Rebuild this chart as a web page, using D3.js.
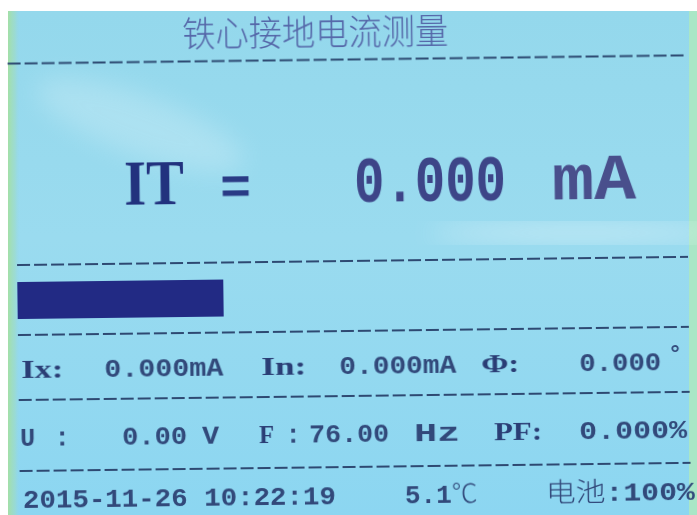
<!DOCTYPE html>
<html>
<head>
<meta charset="utf-8">
<script src="https://cdn.jsdelivr.net/npm/d3@7/dist/d3.min.js"></script>
<style>
  html, body { margin: 0; padding: 0; background: #ffffff; }
  svg { display: block; }
</style>
</head>
<body>
<script>
// ---------- data ----------
const titleText = "铁心接地电流测量";
const mainLabel = ["IT", "="];
const mainReading = ["0.000", "mA"];
const barLevel = [30.7];                 // percent of full bar width
const row1Texts = ["Ix:", "0.000mA", "In:", "0.000mA", "Φ:", "0.000", "°"];
const row2Texts = ["U", ":", "0.00", "V", "F", ":", "76.00", "Hz", "PF:", "0.000%"];
const row3Texts = ["2015-11-26 10:22:19", "5.1℃", "电池:100%"];
const dividerRows = [0, 1, 2, 3, 4];

// ---------- layout (separate from data) ----------
const W = 697, H = 515;
const row1X = [20, 103, 260, 338, 480, 578, 667];
const row1W = [42, 119, 45, 117, 38, 82, 14];
const row2X = [18, 60, 120, 200, 257, 291, 307, 412, 492, 577];
const row2W = [15, 0, 65, 17, 15, 0, 80, 46, 48, 108];
const row3X = [20, 402, 543];
const row3W = [313, -1, 149];            // -1: natural width, start anchored
const dividerY = [59.5, 261, 331, 396, 467];
const dividerX0 = [10, 17, 17, 17, 17];

const LABEL_FONT = "Liberation Serif";
const DIGIT_FONT = "Liberation Mono";
const CJK_FONT = "Noto Sans CJK SC";

const svg = d3.select("body").append("svg")
  .attr("width", W).attr("height", H);

const defs = svg.append("defs");
const bg = defs.append("linearGradient").attr("id", "bg")
  .attr("x1", 0).attr("y1", 0).attr("x2", 0).attr("y2", 1);
bg.append("stop").attr("offset", "0%").attr("stop-color", "#94d8ec");
bg.append("stop").attr("offset", "45%").attr("stop-color", "#9adbef");
bg.append("stop").attr("offset", "100%").attr("stop-color", "#8cd6f1");

const leftG = defs.append("linearGradient").attr("id", "leftG")
  .attr("x1", 0).attr("y1", 0).attr("x2", 1).attr("y2", 0);
leftG.append("stop").attr("offset", "0%").attr("stop-color", "#a4e0a6");
leftG.append("stop").attr("offset", "60%").attr("stop-color", "#9edcc4").attr("stop-opacity", 0.6);
leftG.append("stop").attr("offset", "100%").attr("stop-color", "#93d6ec").attr("stop-opacity", 0);

const blur = defs.append("filter").attr("id", "blur")
  .attr("x", "-50%").attr("y", "-50%").attr("width", "200%").attr("height", "200%");
blur.append("feGaussianBlur").attr("stdDeviation", 12);
const soft = defs.append("filter").attr("id", "soft");
soft.append("feGaussianBlur").attr("stdDeviation", 0.45);

// screen background
svg.append("rect").attr("x", 8).attr("y", 11).attr("width", W - 8).attr("height", H - 11)
  .attr("fill", "url(#bg)");
svg.append("rect").attr("x", 8).attr("y", 11).attr("width", 12).attr("height", H - 11)
  .attr("fill", "url(#leftG)");
svg.append("rect").attr("x", 689).attr("y", 11).attr("width", 8).attr("height", H - 11)
  .attr("fill", "#a9e6c6");

// glare
svg.append("ellipse").attr("cx", 580).attr("cy", 233).attr("rx", 150).attr("ry", 6)
  .attr("fill", "#ffffff").attr("opacity", 0.6).attr("filter", "url(#blur)");
svg.append("ellipse").attr("cx", 140).attr("cy", 125).attr("rx", 110).attr("ry", 30)
  .attr("fill", "#ffffff").attr("opacity", 0.2).attr("filter", "url(#blur)")
  .attr("transform", "rotate(20,140,125)");

const g = svg.append("g")
  .attr("transform", "rotate(-0.7, 348, 258)")
  .attr("filter", "url(#soft)");

// dividers
const xFull = d3.scaleLinear().domain([0, 1]).range([0, 688]);
g.selectAll("line.div").data(dividerRows).join("line")
  .attr("class", "div")
  .attr("x1", i => dividerX0[i]).attr("x2", xFull(1))
  .attr("y1", i => dividerY[i]).attr("y2", i => dividerY[i])
  .attr("stroke", "#2d4a72").attr("stroke-width", 2.2)
  .attr("stroke-dasharray", "13,4");

// title
g.append("text").text(titleText)
  .attr("x", 185).attr("y", 45)
  .attr("textLength", 266).attr("lengthAdjust", "spacingAndGlyphs")
  .attr("font-family", CJK_FONT).attr("font-weight", 300)
  .attr("font-size", 35).attr("fill", "#5466a8");

// big reading
g.append("text").text(mainLabel[0])
  .attr("x", 125).attr("y", 202)
  .attr("textLength", 60).attr("lengthAdjust", "spacingAndGlyphs")
  .attr("font-family", LABEL_FONT).attr("font-weight", 700)
  .attr("font-size", 64).attr("fill", "#24337e");
g.append("text").text(mainLabel[1])
  .attr("x", 221).attr("y", 202)
  .attr("textLength", 31).attr("lengthAdjust", "spacingAndGlyphs")
  .attr("font-family", DIGIT_FONT).attr("font-weight", 700)
  .attr("font-size", 52).attr("fill", "#2b3a85");
g.append("text").text(mainReading[0])
  .attr("x", 355).attr("y", 202)
  .attr("textLength", 152).attr("lengthAdjust", "spacingAndGlyphs")
  .attr("font-family", DIGIT_FONT).attr("font-weight", 700)
  .attr("font-size", 64).attr("fill", "#3d4588");
g.append("text").text(mainReading[1])
  .attr("x", 553).attr("y", 202)
  .attr("textLength", 84).attr("lengthAdjust", "spacingAndGlyphs")
  .attr("font-family", DIGIT_FONT).attr("font-weight", 700)
  .attr("font-size", 64).attr("fill", "#4a4f8c");

// level bar
const xBar = d3.scaleLinear().domain([0, 100]).range([17, 688]);
g.selectAll("rect.bar").data(barLevel).join("rect")
  .attr("class", "bar")
  .attr("x", xBar(0)).attr("y", 278)
  .attr("width", d => xBar(d) - xBar(0)).attr("height", 37)
  .attr("fill", "#232c84");

// rows
const cjkRe = /[\u4e00-\u9fff\u2103]/;
const isLabel = d => /^[A-TW-Za-zΦ]+:?$/.test(d) && d !== "mA" && d !== "Hz";
function runs(str) {
  const out = [];
  for (const ch of str) {
    const c = cjkRe.test(ch);
    if (out.length && out[out.length - 1].cjk === c) out[out.length - 1].t += ch;
    else out.push({ t: ch, cjk: c });
  }
  return out;
}
function row(texts, xs, ws, y, cls) {
  const t = g.selectAll("text." + cls).data(texts).join("text")
    .attr("class", cls)
    .attr("x", (d, i) => xs[i])
    .attr("y", d => d === "°" ? y - 9 : y)
    .attr("text-anchor", (d, i) => ws[i] === 0 ? "middle" : "start")
    .attr("textLength", (d, i) => ws[i] > 0 ? ws[i] : null)
    .attr("lengthAdjust", (d, i) => ws[i] > 0 ? "spacingAndGlyphs" : null)
    .attr("font-family", d => isLabel(d) ? LABEL_FONT : DIGIT_FONT)
    .attr("font-weight", 700)
    .attr("font-size", d => d === "°" ? 22 : 26)
    .attr("fill", d => isLabel(d) ? "#2a3d74" : "#31487a");
  t.selectAll("tspan").data(d => runs(d)).join("tspan")
    .text(r => r.t)
    .attr("font-family", r => r.cjk ? CJK_FONT : null)
    .attr("font-weight", r => r.cjk ? 300 : null);
}
row(row1Texts, row1X, row1W, 374, "r1");
row(row2Texts, row2X, row2W, 442, "r2");
row(row3Texts, row3X, row3W, 504, "r3");
</script>
</body>
</html>
